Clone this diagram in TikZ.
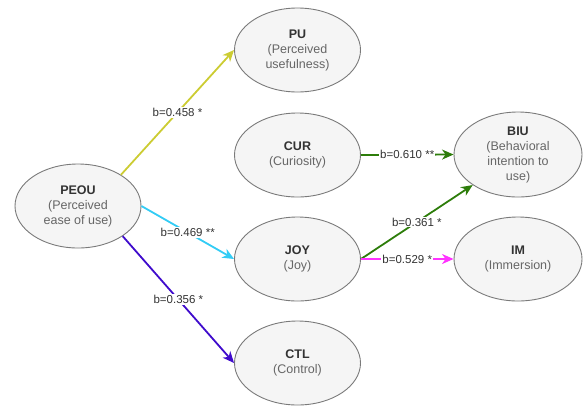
\documentclass[tikz,border=0pt]{standalone}
\usepackage{fontspec}
\setmainfont{Liberation Sans}
\usetikzlibrary{arrows.meta,shapes.geometric}
\definecolor{ttl}{HTML}{333333}
\definecolor{sub}{HTML}{666666}
\definecolor{ellgray}{HTML}{7A7A7A}
\definecolor{ellfill}{HTML}{F5F5F5}
\definecolor{lbltext}{HTML}{333333}
\definecolor{yel}{HTML}{CCCC33}
\definecolor{cyn}{HTML}{33CCF5}
\definecolor{pur}{HTML}{3F0BCC}
\definecolor{grn}{HTML}{2D7D0A}
\definecolor{mag}{HTML}{FF33FF}
\begin{document}
\begin{tikzpicture}[x=1pt,y=-1pt,
  var/.style={ellipse, draw=ellgray, fill=ellfill, line width=0.9pt,
    minimum width=126pt, minimum height=84pt, inner sep=0pt, align=center,
    font=\fontsize{12.5}{15}\selectfont, text=sub},
  conn/.style={line width=1.8pt, -{Stealth[length=11.5pt,width=10pt,inset=3.5pt]}},
  lbl/.style={fill=white, inner sep=1pt, font=\fontsize{11.5}{13}\selectfont, text=lbltext}]
\useasboundingbox (0,0) rectangle (585,405);
\node[var] (PEOU) at (78,206) {{\color{ttl}\textbf{PEOU}}\\(Perceived\\ease of use)};
\node[var] (PU) at (297.5,50) {{\color{ttl}\textbf{PU}}\\(Perceived\\usefulness)};
\node[var] (CUR) at (297.5,155) {{\color{ttl}\textbf{CUR}}\\(Curiosity)};
\node[var] (JOY) at (297.5,259) {{\color{ttl}\textbf{JOY}}\\(Joy)};
\node[var] (CTL) at (297.5,363) {{\color{ttl}\textbf{CTL}}\\(Control)};
\node[var, minimum width=128pt, minimum height=85pt] (BIU) at (518,154.5) {{\color{ttl}\textbf{BIU}}\\(Behavioral\\intention to\\use)};
\node[var, minimum width=128pt] (IM) at (518,259) {{\color{ttl}\textbf{IM}}\\(Immersion)};
\draw[conn, yel] (PEOU.36) -- node[lbl]{b=0.458 *} (PU.west);
\draw[conn, cyn] (PEOU.east) -- node[lbl]{b=0.469 **} (JOY.west);
\draw[conn, pur] (PEOU.-34) -- node[lbl]{b=0.356 *} (CTL.west);
\draw[conn, grn] (CUR.east) -- node[lbl]{b=0.610 **} (BIU.west);
\draw[conn, grn] (JOY.east) -- node[lbl]{b=0.361 *} (BIU.214);
\draw[conn, mag] (JOY.east) -- node[lbl]{b=0.529 *} (IM.west);
\end{tikzpicture}
\end{document}
